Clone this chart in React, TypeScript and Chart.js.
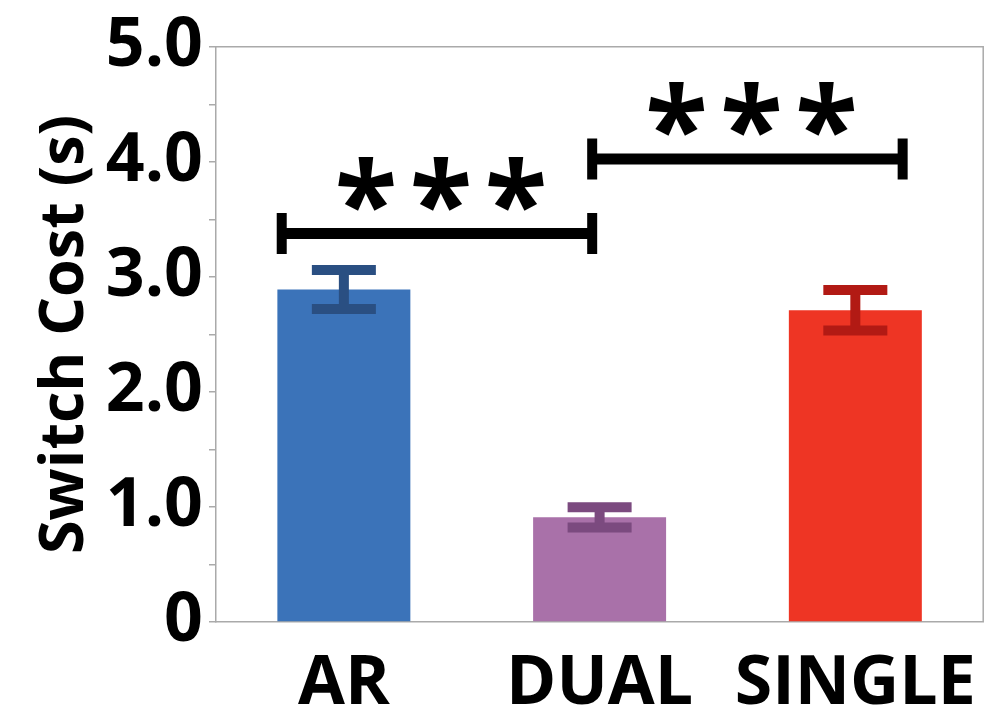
import React, { useRef, useEffect } from 'react';
import Chart from 'chart.js/auto';

// data
const categories = ['AR', 'DUAL', 'SINGLE'];
const meanCost = [2.89, 0.91, 2.71];
const errCost = [0.17, 0.088, 0.177];
const barColors = ['#3b73b9', '#a971a9', '#ee3524'];
const errColors = ['#2a4f82', '#7b4a7f', '#b21a14'];

// significance brackets (x in category units, y in seconds)
const sigFrom = [-0.243, 0.971];
const sigTo = [0.971, 2.185];
const sigLevel = [3.376, 4.024];
const sigLabel = ['***', '***'];

const FONT = '"Open Sans", "DejaVu Sans", sans-serif';
const AXIS_GRAY = '#aaaaaa';

const errorBarPlugin = {
    id: 'errorBars',
    afterDatasetsDraw(chart: any) {
        const { ctx, scales } = chart;
        const x = scales.x, y = scales.y;
        ctx.save();
        meanCost.forEach((m, i) => {
            const cx = x.getPixelForValue(i);
            const top = y.getPixelForValue(m + errCost[i]);
            const bot = y.getPixelForValue(m - errCost[i]);
            ctx.strokeStyle = errColors[i];
            ctx.lineWidth = 10;
            ctx.beginPath();
            ctx.moveTo(cx, top);
            ctx.lineTo(cx, bot);
            ctx.moveTo(cx - 32, top);
            ctx.lineTo(cx + 32, top);
            ctx.moveTo(cx - 32, bot);
            ctx.lineTo(cx + 32, bot);
            ctx.stroke();
        });
        ctx.restore();
    },
};

const framePlugin = {
    id: 'frame',
    afterDraw(chart: any) {
        const { ctx, chartArea } = chart;
        ctx.save();
        ctx.strokeStyle = AXIS_GRAY;
        ctx.lineWidth = 1.5;
        ctx.beginPath();
        ctx.moveTo(chartArea.left, chartArea.top);
        ctx.lineTo(chartArea.right, chartArea.top);
        ctx.lineTo(chartArea.right, chartArea.bottom);
        ctx.stroke();
        ctx.restore();
    },
};

const sigPlugin = {
    id: 'significance',
    afterDraw(chart: any) {
        const { ctx, scales } = chart;
        const x = scales.x, y = scales.y;
        ctx.save();
        ctx.strokeStyle = '#000';
        ctx.fillStyle = '#000';
        sigLevel.forEach((lvl, i) => {
            const x0 = x.getPixelForValue(sigFrom[i]);
            const x1 = x.getPixelForValue(sigTo[i]);
            const py = y.getPixelForValue(lvl);
            ctx.lineCap = 'butt';
            ctx.lineWidth = 11;
            ctx.beginPath();
            ctx.moveTo(x0, py);
            ctx.lineTo(x1, py);
            ctx.stroke();
            ctx.lineWidth = 10;
            ctx.beginPath();
            ctx.moveTo(x0, py - 20.5);
            ctx.lineTo(x0, py + 20.5);
            ctx.moveTo(x1, py - 20.5);
            ctx.lineTo(x1, py + 20.5);
            ctx.stroke();

            // stars, sized so each glyph is about 55px tall
            ctx.font = `bold 100px ${FONT}`;
            const m = ctx.measureText('*');
            const h = m.actualBoundingBoxAscent + m.actualBoundingBoxDescent;
            const size = (100 * 55) / h;
            ctx.font = `bold ${size}px ${FONT}`;
            const mm = ctx.measureText('*');
            ctx.textAlign = 'center';
            ctx.textBaseline = 'alphabetic';
            const baseY = py - 23 - mm.actualBoundingBoxDescent;
            const cx = (x0 + x1) / 2 + 4;
            const stars = sigLabel[i].split('');
            stars.forEach((s, k) => {
                ctx.fillText(s, cx + (k - (stars.length - 1) / 2) * 75, baseY);
            });
        });
        ctx.restore();
    },
};

const App: React.FC = () => {
    const canvasRef = useRef<HTMLCanvasElement>(null);
    const chartRef = useRef<Chart | null>(null);

    useEffect(() => {
        document.body.style.margin = '0';
        if (chartRef.current) chartRef.current.destroy();
        if (!canvasRef.current) return;

        chartRef.current = new Chart(canvasRef.current, {
            type: 'bar',
            data: {
                labels: categories,
                datasets: [
                    {
                        label: 'Switch Cost',
                        data: meanCost,
                        backgroundColor: barColors,
                        borderWidth: 0,
                        barPercentage: 0.52,
                        categoryPercentage: 1,
                    },
                ],
            },
            options: {
                animation: false,
                responsive: true,
                maintainAspectRatio: false,
                layout: { padding: { top: 43, right: 13, left: 0, bottom: 0 } },
                plugins: {
                    legend: { display: false },
                    tooltip: { enabled: false },
                },
                scales: {
                    x: {
                        grid: { display: false, drawTicks: false },
                        border: { color: AXIS_GRAY, width: 1.5 },
                        ticks: {
                            color: '#000',
                            padding: 22,
                            font: { family: FONT, size: 68, weight: 'bold' },
                        },
                        afterFit(scale: any) { scale.height = 101; },
                    },
                    y: {
                        min: 0,
                        max: 5,
                        grid: { drawOnChartArea: false, tickLength: 7, color: AXIS_GRAY, lineWidth: 1.5 },
                        border: { color: AXIS_GRAY, width: 1.5 },
                        ticks: {
                            stepSize: 0.5,
                            color: '#000',
                            padding: 6,
                            autoSkip: false,
                            font: { family: FONT, size: 68, weight: 'bold' },
                            callback: (v: any) => (v === 0 ? '0' : v % 1 === 0 ? Number(v).toFixed(1) : ''),
                        },
                        title: {
                            display: true,
                            text: 'Switch Cost (s)',
                            color: '#000',
                            padding: { top: 29, bottom: 0 },
                            font: { family: FONT, size: 61, weight: 'bold' },
                        },
                        afterFit(scale: any) { scale.width = 216; },
                    },
                },
            },
            plugins: [errorBarPlugin, framePlugin, sigPlugin],
        });

        return () => { if (chartRef.current) chartRef.current.destroy(); };
    }, []);

    return (
        <div style={{ position: 'relative', width: 1000, height: 723 }}>
            <canvas ref={canvasRef}></canvas>
        </div>
    );
};

export default App;
